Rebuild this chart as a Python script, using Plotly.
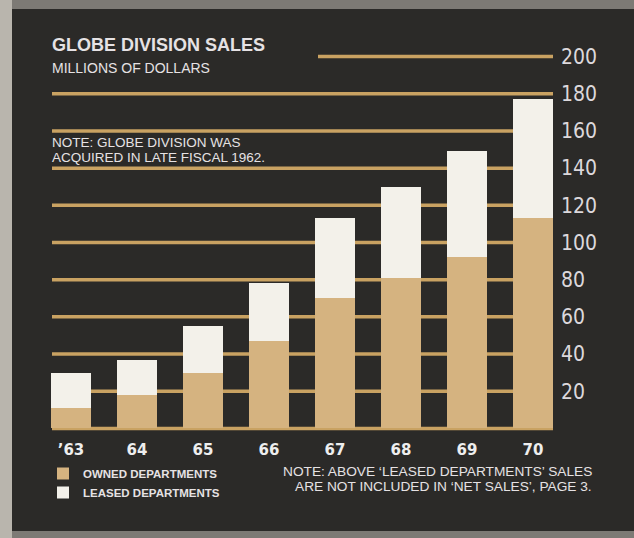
import plotly.graph_objects as go

# ---- data ----
years = ["’63", "64", "65", "66", "67", "68", "69", "70"]
owned = [11, 18, 30, 47, 70, 81, 92, 113]
leased = [19, 19, 25, 31, 43, 49, 57, 64]
y_ticks = [20, 40, 60, 80, 100, 120, 140, 160, 180, 200]
grid_values = [0, 20, 40, 60, 80, 100, 120, 140, 160, 180, 200]

W, H = 634, 538
ML, MR, MT, MB = 38, 74, 51, 104
PW, PH = W - ML - MR, H - MT - MB


def px_x(px):
    return (px - ML) / PW


def px_y(py):
    return (H - MB - py) / PH


TAN = "#d5b380"
WHITE = "#f3f1ea"
GRID = "#c9a262"
PANEL = "#2b2a28"
TXT = "#e6e2e4"

fig = go.Figure()
fig.add_trace(go.Bar(x=years, y=owned, name="OWNED DEPARTMENTS",
                     marker=dict(color=TAN, line=dict(width=0))))
fig.add_trace(go.Bar(x=years, y=leased, name="LEASED DEPARTMENTS",
                     marker=dict(color=WHITE, line=dict(width=0))))

shapes = []
# left light paper strip
shapes.append(dict(type="rect", xref="paper", yref="paper", layer="below",
                   x0=px_x(-5), x1=px_x(12), y0=px_y(545), y1=px_y(-5),
                   fillcolor="#b9b5ad", line=dict(width=0)))
# dark panel
shapes.append(dict(type="rect", xref="paper", yref="paper", layer="below",
                   x0=px_x(12), x1=px_x(645), y0=px_y(531), y1=px_y(9),
                   fillcolor=PANEL, line=dict(width=0)))
for v in grid_values:
    x0 = px_x(318) if v == 200 else px_x(52)
    shapes.append(dict(type="line", xref="paper", yref="y", layer="below",
                       x0=x0, x1=px_x(553), y0=v, y1=v,
                       line=dict(color=GRID, width=3.5)))

FONT = "Liberation Sans, Arial"
annotations = [
    dict(text="GLOBE DIVISION SALES", x=px_x(50), y=px_y(45), xref="paper", yref="paper",
         xanchor="left", yanchor="middle", showarrow=False,
         font=dict(family=FONT, size=18, color=TXT, weight="bold")),
    dict(text="MILLIONS OF DOLLARS", x=px_x(50), y=px_y(68), xref="paper", yref="paper",
         xanchor="left", yanchor="middle", showarrow=False,
         font=dict(family=FONT, size=14, color=TXT)),
    dict(text="NOTE: GLOBE DIVISION WAS", x=px_x(50), y=px_y(142), xref="paper", yref="paper",
         xanchor="left", yanchor="middle", showarrow=False,
         font=dict(family=FONT, size=13.5, color=TXT)),
    dict(text="ACQUIRED IN LATE FISCAL 1962.", x=px_x(50), y=px_y(157), xref="paper", yref="paper",
         xanchor="left", yanchor="middle", showarrow=False,
         font=dict(family=FONT, size=13.5, color=TXT)),
    dict(text="NOTE: ABOVE ‘LEASED DEPARTMENTS’ SALES", x=px_x(594), y=px_y(471.5),
         xref="paper", yref="paper", xanchor="right", yanchor="middle", showarrow=False,
         font=dict(family=FONT, size=13.7, color=TXT)),
    dict(text="ARE NOT INCLUDED IN ‘NET SALES’, PAGE 3.", x=px_x(594), y=px_y(486),
         xref="paper", yref="paper", xanchor="right", yanchor="middle", showarrow=False,
         font=dict(family=FONT, size=13.7, color=TXT)),
]

fig.update_layout(
    width=W, height=H, autosize=False,
    margin=dict(l=ML, r=MR, t=MT, b=MB, pad=0),
    paper_bgcolor="#7d7a75",
    plot_bgcolor="rgba(0,0,0,0)",
    barmode="stack",
    bargap=0.4,
    shapes=shapes,
    annotations=annotations,
    showlegend=True,
    legend=dict(x=px_x(43), y=px_y(459), xanchor="left", yanchor="top",
                orientation="v", traceorder="normal", bgcolor="rgba(0,0,0,0)",
                font=dict(family=FONT, size=11.5, color=TXT, weight="bold"),
                itemwidth=30),
    xaxis=dict(type="category", categoryorder="array", categoryarray=years,
               range=[-0.5, 7.41], showgrid=False, zeroline=False, showline=False,
               ticks="", ticklabelstandoff=5,
               tickfont=dict(family="DejaVu Sans", size=15, color="#eeeeee", weight="bold")),
    yaxis=dict(side="right", range=[-3, 203], tickvals=y_ticks,
               ticktext=[str(v) for v in y_ticks], showgrid=False, zeroline=False,
               showline=False, ticks="",
               tickfont=dict(family="DejaVu Sans Condensed, Liberation Sans Narrow",
                             size=21, color="#dcd8dc")),
)

fig.write_html("out.html")
